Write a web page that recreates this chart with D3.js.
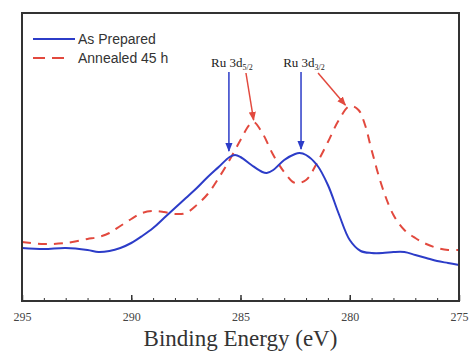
<!DOCTYPE html>
<html>
<head>
<meta charset="utf-8">
<script src="https://cdn.jsdelivr.net/npm/d3@7"></script>
<style>
  body { margin: 0; background: #fff; }
  svg { display: block; }
</style>
</head>
<body>
<div id="chart"></div>
<script>
// binding energy (eV) and intensity (a.u.)
var energyPrepared = [295, 294, 293, 292, 291.5, 291, 290.5, 290, 289.5, 289, 288.5, 288, 287.5, 287, 286.5, 286, 285.5, 285.25, 285, 284.5, 284, 283.8, 283.5, 283, 282.5, 282.3, 282, 281.5, 281, 280.5, 280, 279.5, 279, 278.5, 278, 277.5, 277, 276.5, 276, 275.5, 275];
var intensityPrepared = [53, 52, 53, 51, 49, 50, 53, 58, 65, 73, 83, 93, 103, 113, 124, 134, 144, 146, 144, 136, 129, 128, 131, 141, 147, 148, 146, 136, 116, 87, 61, 50, 48, 48, 49, 49, 46, 43, 40, 38, 36];

var energyAnnealed = [295, 294, 293, 292, 291.5, 291, 290.5, 290, 289.5, 289, 288.5, 288, 287.5, 287, 286.5, 286, 285.5, 285, 284.6, 284.4, 284, 283.5, 283, 282.5, 282, 281.5, 281, 280.5, 280, 279.6, 279.3, 279, 278.5, 278, 277.5, 277, 276.5, 276, 275.5, 275];
var intensityAnnealed = [59, 57, 58, 62, 64, 68, 75, 82, 88, 90, 89, 87, 88, 96, 107, 123, 141, 161, 176, 179, 168, 146, 129, 118, 121, 138, 159, 181, 195, 191, 176, 151, 113, 86, 71, 63, 57, 53, 51, 51];

var seriesNames = ["As Prepared", "Annealed 45 h"];
var xTicks = [295, 290, 285, 280, 275];

// peak annotations
var peakSubs = ["5/2", "3/2"];
var peakArrowPrepared = [285.53, 282.23];
var peakArrowPreparedToY = [150, 152];
var peakArrowAnnealedFrom = [284.75, 281.45];
var peakArrowAnnealedTo = [284.4, 280.2];
var peakArrowAnnealedToY = [181, 196];

var W = 470, H = 354;
var margin = {top: 13, right: 11, bottom: 53, left: 22};
var width = W - margin.left - margin.right;
var height = H - margin.top - margin.bottom;

var blue = "#2c3cc8";
var red = "#e2493e";

var svg = d3.select("#chart").append("svg")
      .attr("width", W)
      .attr("height", H);

var defs = svg.append("defs");
[["arrBlue", blue], ["arrRed", red]].forEach(function(m) {
  defs.append("marker")
      .attr("id", m[0])
      .attr("viewBox", "0 0 10 10")
      .attr("refX", 9).attr("refY", 5)
      .attr("markerWidth", 6).attr("markerHeight", 6)
      .attr("orient", "auto")
    .append("path")
      .attr("d", "M0,1 L10,5 L0,9 z")
      .attr("fill", m[1]);
});

var g = svg.append("g")
      .attr("transform", "translate(" + margin.left + "," + margin.top + ")");

var x = d3.scaleLinear().domain([295, 275]).range([0, width]);
var y = d3.scaleLinear().domain([0, 288]).range([height, 0]);

// minor + major ticks (inward)
g.append("g")
  .attr("transform", "translate(0," + height + ")")
  .call(d3.axisBottom(x).ticks(20).tickSize(-3).tickFormat(""))
  .call(function(a) { a.select(".domain").remove(); a.selectAll("line").attr("stroke", "#333"); });

g.append("g")
  .attr("transform", "translate(0," + height + ")")
  .call(d3.axisBottom(x).tickValues(xTicks).tickSize(-6).tickPadding(11).tickFormat(d3.format("d")))
  .call(function(a) {
    a.select(".domain").remove();
    a.selectAll("line").attr("stroke", "#333").attr("stroke-width", 1.5);
    a.selectAll("text").attr("font-family", "Liberation Serif, Times New Roman, serif")
      .attr("font-size", 12).attr("fill", "#444");
  });

var line = d3.line()
      .x(function(d) { return x(d[0]); })
      .y(function(d) { return y(d[1]); })
      .curve(d3.curveCatmullRom.alpha(0.5));

g.append("path")
  .datum(d3.zip(energyAnnealed, intensityAnnealed))
  .attr("d", line)
  .attr("fill", "none")
  .attr("stroke", red)
  .attr("stroke-width", 2)
  .attr("stroke-dasharray", "9,7");

g.append("path")
  .datum(d3.zip(energyPrepared, intensityPrepared))
  .attr("d", line)
  .attr("fill", "none")
  .attr("stroke", blue)
  .attr("stroke-width", 2);

// frame
g.append("rect")
  .attr("width", width).attr("height", height)
  .attr("fill", "none")
  .attr("stroke", "#333")
  .attr("stroke-width", 2);

// peak labels + arrows
peakSubs.forEach(function(sub, i) {
  var t = g.append("text")
    .attr("x", x(peakArrowPrepared[i]) + 3)
    .attr("y", 54)
    .attr("text-anchor", "middle")
    .attr("font-family", "Liberation Serif, Times New Roman, serif")
    .attr("font-size", 13)
    .attr("fill", "#222");
  t.append("tspan").text("Ru 3d");
  t.append("tspan").attr("font-size", 8).attr("dy", 3).text(sub);

  g.append("line")
    .attr("x1", x(peakArrowPrepared[i])).attr("x2", x(peakArrowPrepared[i]))
    .attr("y1", 59).attr("y2", y(peakArrowPreparedToY[i]))
    .attr("stroke", blue).attr("stroke-width", 1.5)
    .attr("marker-end", "url(#arrBlue)");

  g.append("line")
    .attr("x1", x(peakArrowAnnealedFrom[i])).attr("x2", x(peakArrowAnnealedTo[i]))
    .attr("y1", 60).attr("y2", y(peakArrowAnnealedToY[i]))
    .attr("stroke", red).attr("stroke-width", 1.5)
    .attr("marker-end", "url(#arrRed)");
});

// legend
var legend = g.append("g").attr("transform", "translate(11,26)");
seriesNames.forEach(function(name, i) {
  var row = legend.append("g").attr("transform", "translate(0," + (i * 19) + ")");
  row.append("line")
    .attr("x1", 0).attr("x2", i === 0 ? 42 : 32)
    .attr("stroke", i === 0 ? blue : red)
    .attr("stroke-width", 2)
    .attr("stroke-dasharray", i === 0 ? null : "12,7");
  row.append("text")
    .attr("x", 45).attr("y", 0).attr("dy", "0.35em")
    .attr("font-family", "Liberation Sans, Arial, sans-serif")
    .attr("font-size", 14)
    .attr("fill", "#333")
    .text(name);
});

// axis title
svg.append("text")
  .attr("x", margin.left + width / 2)
  .attr("y", 346)
  .attr("text-anchor", "middle")
  .attr("font-family", "Liberation Serif, Times New Roman, serif")
  .attr("font-size", 23)
  .attr("fill", "#333")
  .text("Binding Energy (eV)");
</script>
</body>
</html>
